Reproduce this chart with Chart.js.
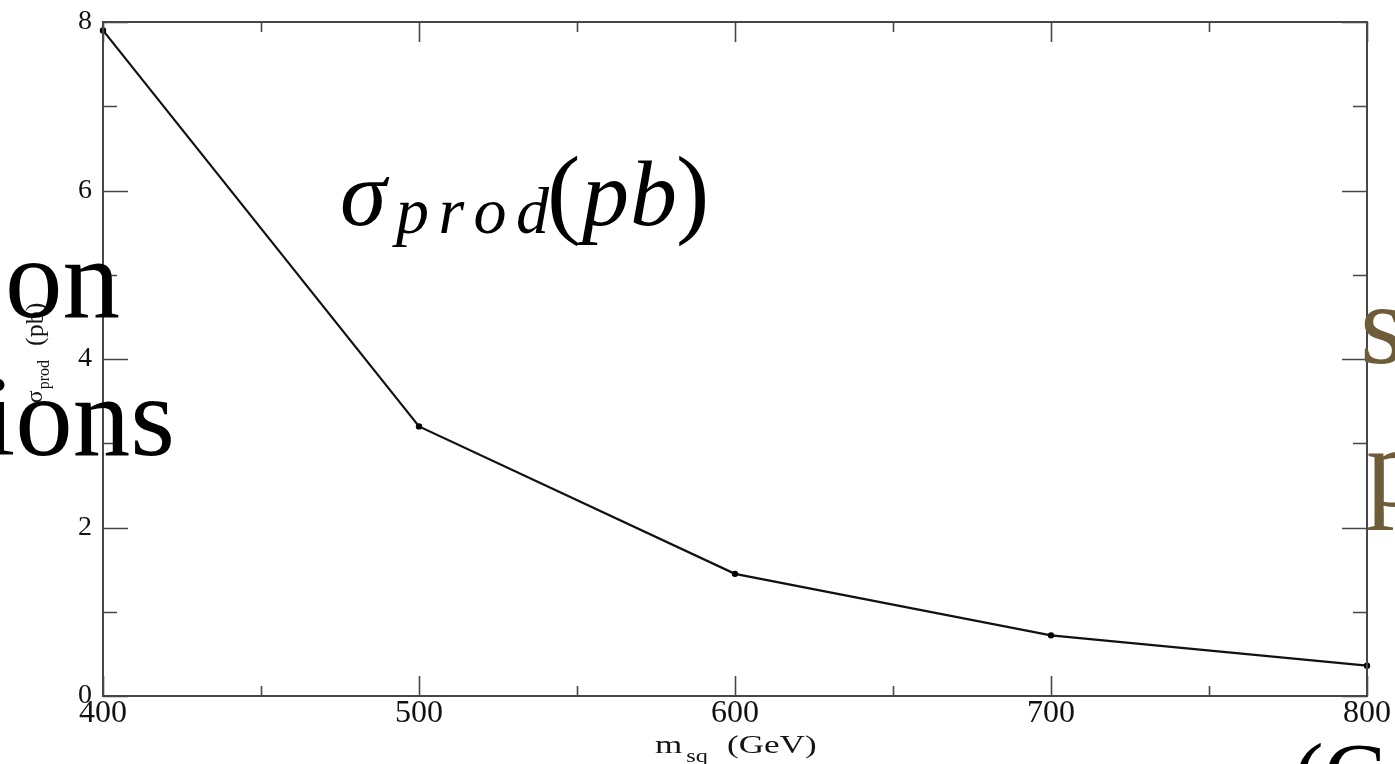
<!DOCTYPE html>
<html>
<head>
<meta charset="utf-8">
<script src="https://cdn.jsdelivr.net/npm/chart.js@4.4.1/dist/chart.umd.min.js"></script>
<style>
  html, body { margin: 0; padding: 0; background: #fff; }
  #wrap { position: relative; width: 1395px; height: 764px; overflow: hidden; }
  canvas { display: block; }
</style>
</head>
<body>
<div id="wrap"><canvas id="c" width="1395" height="764"></canvas></div>
<script>
// ---- data ----
const massGeV = [400, 500, 600, 700, 800];
const sigmaPb = [7.9, 3.2, 1.45, 0.72, 0.36];
const xTickValues = [400, 500, 600, 700, 800];
const xMinorTicks = [450, 550, 650, 750];
const yTickValues = [0, 2, 4, 6, 8];
const yMinorTicks = [1, 3, 5, 7];
const xTitleMain = 'm';
const xTitleSub = 'sq';
const xTitleUnit = '(GeV)';
const yTitleMain = 'σ';
const yTitleSub = 'prod';
const yTitleUnit = '(pb)';

const SERIF = '"Liberation Serif", "DejaVu Serif", serif';

const framePlugin = {
  id: 'frameTicks',
  afterDatasetsDraw(chart) {
    const ctx = chart.ctx;
    const a = chart.chartArea;
    const xs = chart.scales.x, ys = chart.scales.y;
    ctx.save();
    ctx.strokeStyle = '#474747';
    ctx.lineWidth = 2;
    ctx.strokeRect(a.left, a.top, a.right - a.left, a.bottom - a.top);
    ctx.lineWidth = 1.6;
    ctx.beginPath();
    const yTick = (v, len) => {
      const p = Math.round(ys.getPixelForValue(v)) + 0.5;
      ctx.moveTo(a.left, p); ctx.lineTo(a.left + len, p);
      ctx.moveTo(a.right, p); ctx.lineTo(a.right - len, p);
    };
    const xTick = (v, len) => {
      const p = Math.round(xs.getPixelForValue(v)) + 0.5;
      ctx.moveTo(p, a.bottom); ctx.lineTo(p, a.bottom - len);
      ctx.moveTo(p, a.top); ctx.lineTo(p, a.top + len);
    };
    yTickValues.forEach(v => yTick(v, 25));
    yMinorTicks.forEach(v => yTick(v, 14));
    xTickValues.forEach(v => xTick(v, 20));
    xMinorTicks.forEach(v => xTick(v, 10));
    ctx.stroke();
    ctx.restore();
  },
  afterDraw(chart) {
    const ctx = chart.ctx;
    ctx.save();
    ctx.textBaseline = 'alphabetic';
    ctx.fillStyle = '#141414';

    // ---- x axis title: m_sq (GeV), horizontally stretched like the figure ----
    const sx = 1.35;
    ctx.save();
    ctx.translate(655, 0);
    ctx.scale(sx, 1);
    ctx.font = '26px ' + SERIF;
    ctx.fillText(xTitleMain, 0, 753);
    const mW = ctx.measureText(xTitleMain).width;
    ctx.font = '18px ' + SERIF;
    ctx.fillText(xTitleSub, mW + 3, 762);
    ctx.font = '26px ' + SERIF;
    ctx.fillText(xTitleUnit, (727 - 655) / sx, 753);
    ctx.restore();

    // ---- y axis title: sigma_prod (pb), rotated ----
    ctx.save();
    ctx.translate(42, 353);
    ctx.rotate(-Math.PI / 2);
    ctx.font = '24px ' + SERIF;
    const w1 = ctx.measureText(yTitleMain).width;
    ctx.font = '16px ' + SERIF;
    const w2 = ctx.measureText(yTitleSub).width;
    ctx.font = '26px ' + SERIF;
    const w3 = ctx.measureText(yTitleUnit).width;
    const gap1 = 1, gap2 = 14;
    let x0 = -(w1 + gap1 + w2 + gap2 + w3) / 2;
    ctx.font = '24px ' + SERIF;
    ctx.fillText(yTitleMain, x0, 0);
    ctx.font = '16px ' + SERIF;
    ctx.fillText(yTitleSub, x0 + w1 + gap1, 7);
    ctx.font = '26px ' + SERIF;
    ctx.fillText(yTitleUnit, x0 + w1 + gap1 + w2 + gap2, 1);
    ctx.restore();

    // ---- central math label sigma_prod(pb) ----
    ctx.fillStyle = '#000';
    ctx.font = 'italic 94px ' + SERIF;
    ctx.fillText('σ', 340, 225);
    ctx.font = 'italic 66px ' + SERIF;
    const subChars = ['p', 'r', 'o', 'd'];
    const widths = subChars.map(c => ctx.measureText(c).width);
    const totalW = widths.reduce((s, w) => s + w, 0);
    const spacing = (153 - totalW) / 3;
    let cx = 396;
    subChars.forEach((c, i) => { ctx.fillText(c, cx, 233); cx += widths[i] + spacing; });
    ctx.font = '100px ' + SERIF;
    ctx.fillText('(', 547, 225);
    ctx.font = 'italic 94px ' + SERIF;
    ctx.fillText('p', 582, 225);
    ctx.fillText('b', 630, 225);
    ctx.font = '100px ' + SERIF;
    ctx.fillText(')', 676, 225);

    // ---- slide text cut by the frame of the picture ----
    ctx.font = '115px ' + SERIF;
    ctx.fillStyle = '#000';
    ctx.textAlign = 'right';
    ctx.fillText('on', 120, 317);
    ctx.fillText('ions', 175, 455);
    ctx.textAlign = 'left';
    ctx.fillStyle = '#6e5c38';
    ctx.fillText('s', 1360, 363);
    ctx.fillText('p', 1366, 506);
    ctx.fillStyle = '#000';
    ctx.font = '92px ' + SERIF;
    ctx.fillText('(G', 1293, 806);
    ctx.restore();
  }
};

new Chart(document.getElementById('c'), {
  type: 'line',
  data: {
    datasets: [{
      data: massGeV.map((m, i) => ({ x: m, y: sigmaPb[i] })),
      borderColor: '#111',
      borderWidth: 2.2,
      pointRadius: 3.2,
      pointBackgroundColor: '#000',
      pointBorderColor: '#000',
      pointBorderWidth: 0,
      tension: 0,
      fill: false,
      clip: false
    }]
  },
  options: {
    responsive: false,
    animation: false,
    devicePixelRatio: 1,
    layout: { padding: { top: 22, right: 28, left: 0, bottom: 0 } },
    plugins: { legend: { display: false }, tooltip: { enabled: false }, title: { display: false } },
    scales: {
      x: {
        type: 'linear',
        min: 400, max: 800,
        afterFit(scale) { scale.height = 68; scale.paddingLeft = 0; scale.paddingRight = 0; },
        afterBuildTicks(scale) { scale.ticks = xTickValues.map(v => ({ value: v })); },
        grid: { display: false, drawTicks: false },
        border: { display: false },
        ticks: {
          color: '#111',
          font: { family: SERIF, size: 32, lineHeight: 1 },
          padding: 2,
          maxRotation: 0,
          autoSkip: false
        }
      },
      y: {
        min: 0, max: 8,
        afterFit(scale) { scale.width = 103; scale.paddingTop = 0; scale.paddingBottom = 0; },
        afterBuildTicks(scale) { scale.ticks = yTickValues.map(v => ({ value: v })); },
        grid: { display: false, drawTicks: false },
        border: { display: false },
        ticks: {
          color: '#111',
          font: { family: SERIF, size: 28, lineHeight: 1 },
          padding: 11,
          autoSkip: false
        }
      }
    }
  },
  plugins: [framePlugin]
});
</script>
</body>
</html>
